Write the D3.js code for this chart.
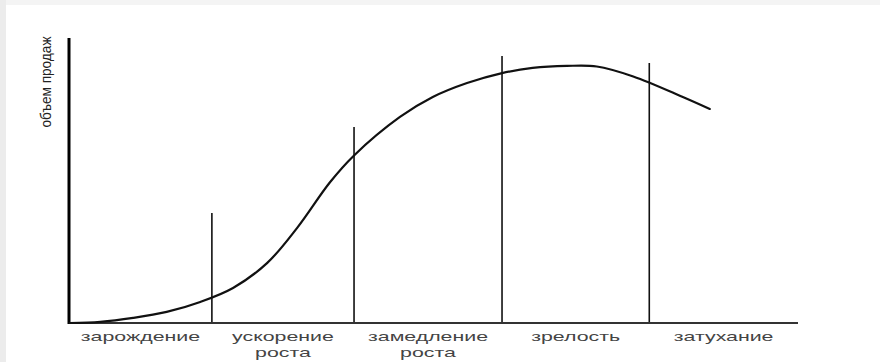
<!DOCTYPE html>
<html>
<head>
<meta charset="utf-8">
<script src="https://cdn.jsdelivr.net/npm/d3@7"></script>
<style>
  html, body { margin: 0; padding: 0; background: #ffffff; }
  svg { display: block; }
</style>
</head>
<body>
<svg id="chart" width="880" height="362"></svg>
<script>
// ---- data ----
// stage boundaries (time units, 0..100)
const stageBounds = [0, 19.6, 39.1, 59.4, 79.6, 100];
// stage labels (lines)
const stageLabels = [
  ["зарождение"],
  ["ускорение", "роста"],
  ["замедление", "роста"],
  ["зрелость"],
  ["затухание"]
];
// heights of the vertical divider lines (sales units, 0..100)
const dividerHeights = [38.6, 68.8, 93.7, 91.2];
// life-cycle curve (time, sales)
const curveTime  = [0.1, 4.3, 8.8, 13.4, 18.0, 22.5, 27.2, 31.3, 35.8, 39.1, 45.4, 49.9, 54.6, 59.4, 63.6, 68.3, 72.4, 77.4, 84.2, 87.9];
const curveSales = [0.0, 0.4, 1.8, 3.9, 7.4, 12.3, 21.1, 33.4, 49.4, 58.8, 72.3, 79.3, 84.2, 87.7, 89.5, 90.2, 90.0, 86.5, 79.3, 75.1];
const yAxisTitle = "объем продаж";

// ---- drawing ----
const svg = d3.select("#chart");
const W = 880, H = 362;

// faint frame as in the reference
svg.append("rect").attr("x", 0).attr("y", 0).attr("width", W).attr("height", H).attr("fill", "#ffffff");
svg.append("rect").attr("x", 0).attr("y", 0).attr("width", W).attr("height", 5).attr("fill", "#f4f4f4");
svg.append("rect").attr("x", 0).attr("y", 0).attr("width", 6).attr("height", H).attr("fill", "#ececec");

const x = d3.scaleLinear().domain([0, 100]).range([69, 798]);
const y = d3.scaleLinear().domain([0, 100]).range([323, 38]);

// divider lines
const dividers = stageBounds.slice(1, -1);
svg.append("g").selectAll("line").data(dividers).join("line")
  .attr("x1", d => x(d)).attr("x2", d => x(d))
  .attr("y1", y(0)).attr("y2", (d, i) => y(dividerHeights[i]))
  .attr("stroke", "#111").attr("stroke-width", 1.6);

// x axis line
svg.append("line")
  .attr("x1", x(0)).attr("x2", x(100)).attr("y1", y(0)).attr("y2", y(0))
  .attr("stroke", "#333").attr("stroke-width", 2.2);

// y axis line
svg.append("line")
  .attr("x1", x(0)).attr("x2", x(0)).attr("y1", y(0) + 1).attr("y2", y(100))
  .attr("stroke", "#000").attr("stroke-width", 3);

// curve
const pts = curveTime.map((t, i) => [t, curveSales[i]]);
const line = d3.line().x(d => x(d[0])).y(d => y(d[1])).curve(d3.curveCatmullRom.alpha(0.5));
svg.append("path").datum(pts)
  .attr("d", line)
  .attr("fill", "none")
  .attr("stroke", "#111")
  .attr("stroke-width", 2.2)
  .attr("stroke-linecap", "round");

// stage labels
const labelG = svg.append("g")
  .attr("font-family", "'Liberation Sans', Arial, sans-serif")
  .attr("font-size", 13.5)
  .attr("fill", "#444");
stageLabels.forEach((lines, i) => {
  const cx = x((stageBounds[i] + stageBounds[i + 1]) / 2);
  lines.forEach((txt, j) => {
    const t = labelG.append("text")
      .attr("x", cx)
      .attr("y", y(0) + 18 + j * 16)
      .attr("text-anchor", "middle")
      .text(txt);
    const w = t.node().getComputedTextLength();
    t.attr("textLength", w * 1.58).attr("lengthAdjust", "spacingAndGlyphs");
  });
});

// y axis title
const yt = svg.append("text")
  .attr("transform", `translate(51, ${y(100) + 44}) rotate(-90)`)
  .attr("text-anchor", "middle")
  .attr("font-family", "'Liberation Sans', Arial, sans-serif")
  .attr("font-size", 14)
  .attr("fill", "#222")
  .text(yAxisTitle);
yt.attr("textLength", 91).attr("lengthAdjust", "spacingAndGlyphs");
</script>
</body>
</html>
